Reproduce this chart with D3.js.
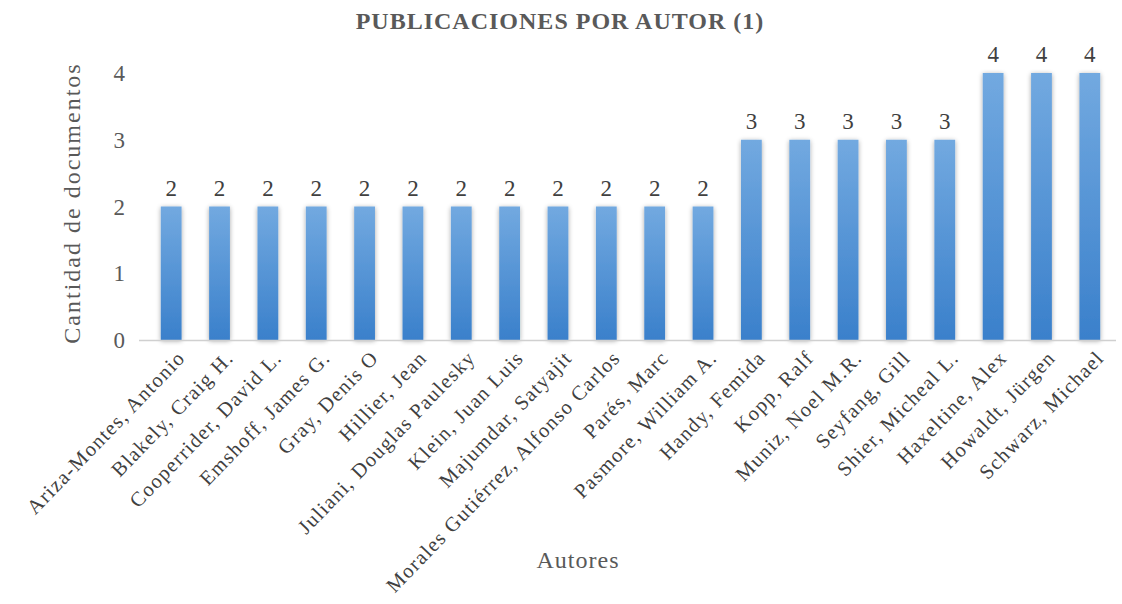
<!DOCTYPE html>
<html>
<head>
<meta charset="utf-8">
<script src="https://cdn.jsdelivr.net/npm/d3@7"></script>
<style>
  body { margin: 0; background: #fff; }
  text { font-family: "Liberation Serif", "DejaVu Serif", serif; fill: #404040; }
</style>
</head>
<body>
<div id="chart"></div>
<script>
// data
var autores = ["Ariza-Montes, Antonio", "Blakely, Craig H.", "Cooperrider, David L.",
  "Emshoff, James G.", "Gray, Denis O", "Hillier, Jean", "Juliani, Douglas Paulesky",
  "Klein, Juan Luis", "Majumdar, Satyajit", "Morales Gutiérrez, Alfonso Carlos",
  "Parés, Marc", "Pasmore, William A.", "Handy, Femida", "Kopp, Ralf",
  "Muniz, Noel M.R.", "Seyfang, Gill", "Shier, Micheal L.", "Haxeltine, Alex",
  "Howaldt, Jürgen", "Schwarz, Michael"];
var documentos = [2, 2, 2, 2, 2, 2, 2, 2, 2, 2, 2, 2, 3, 3, 3, 3, 3, 4, 4, 4];
var yTicks = [0, 1, 2, 3, 4];

var width = 1122, height = 604;
var margin = {top: 73, right: 8, bottom: 264, left: 147};

var svg = d3.select("#chart").append("svg")
  .attr("width", width)
  .attr("height", height);

var defs = svg.append("defs");
var grad = defs.append("linearGradient")
  .attr("id", "barGrad")
  .attr("x1", 0).attr("y1", 0).attr("x2", 0).attr("y2", 1);
grad.append("stop").attr("offset", "0%").attr("stop-color", "#72a9e0");
grad.append("stop").attr("offset", "100%").attr("stop-color", "#3a80cb");

var shadow = defs.append("filter").attr("id", "shadow")
  .attr("x", "-50%").attr("y", "-10%").attr("width", "200%").attr("height", "120%");
shadow.append("feGaussianBlur").attr("in", "SourceAlpha").attr("stdDeviation", 2.5);
shadow.append("feOffset").attr("dx", 0).attr("dy", 1).attr("result", "blur");
shadow.append("feComponentTransfer").append("feFuncA").attr("type", "linear").attr("slope", 0.35);
var merge = shadow.append("feMerge");
merge.append("feMergeNode");
merge.append("feMergeNode").attr("in", "SourceGraphic");

var x = d3.scaleBand()
  .domain(autores)
  .range([margin.left, width - margin.right])
  .paddingInner(0.57)
  .paddingOuter(0.285);

var y = d3.scaleLinear()
  .domain([0, 4])
  .range([height - margin.bottom, margin.top]);

// title
svg.append("text")
  .attr("x", 560).attr("y", 29)
  .attr("text-anchor", "middle")
  .style("font-size", "24px")
  .style("font-weight", "bold")
  .style("letter-spacing", "1px")
  .style("fill", "#595959")
  .text("PUBLICACIONES POR AUTOR (1)");

// y tick labels
svg.append("g").selectAll("text")
  .data(yTicks)
  .enter().append("text")
  .attr("x", 125)
  .attr("y", function (d) { return y(d); })
  .attr("dy", "0.35em")
  .attr("text-anchor", "end")
  .style("font-size", "23px")
  .style("fill", "#595959")
  .text(function (d) { return d; });

// bars
svg.append("g").selectAll("rect")
  .data(documentos)
  .enter().append("rect")
  .attr("x", function (d, i) { return x(autores[i]); })
  .attr("y", function (d) { return y(d); })
  .attr("width", x.bandwidth())
  .attr("height", function (d) { return y(0) - y(d); })
  .attr("fill", "url(#barGrad)")
  .attr("filter", "url(#shadow)");

// baseline
svg.append("line")
  .attr("x1", 139).attr("x2", width - 6)
  .attr("y1", y(0) + 0.5).attr("y2", y(0) + 0.5)
  .attr("stroke", "#d0d0d0")
  .attr("stroke-width", 1.5);

// value labels
svg.append("g").selectAll("text")
  .data(documentos)
  .enter().append("text")
  .attr("x", function (d, i) { return x(autores[i]) + x.bandwidth() / 2; })
  .attr("y", function (d) { return y(d) - 11; })
  .attr("text-anchor", "middle")
  .style("font-size", "23px")
  .text(function (d) { return d; });

// category labels
svg.append("g").selectAll("text")
  .data(autores)
  .enter().append("text")
  .attr("transform", function (d) {
    return "translate(" + (x(d) + x.bandwidth() / 2 + 10) + "," + (y(0) + 14) + ") rotate(-46)";
  })
  .attr("text-anchor", "end")
  .attr("dy", "0.35em")
  .style("font-size", "20.5px")
  .style("letter-spacing", "1.3px")
  .text(function (d) { return d; });

// axis titles
svg.append("text")
  .attr("transform", "translate(80,203) rotate(-90)")
  .attr("text-anchor", "middle")
  .style("font-size", "24px")
  .style("letter-spacing", "2px")
  .style("fill", "#595959")
  .text("Cantidad de documentos");

svg.append("text")
  .attr("x", 578).attr("y", 568)
  .attr("text-anchor", "middle")
  .style("font-size", "24px")
  .style("letter-spacing", "1px")
  .style("fill", "#595959")
  .text("Autores");
</script>
</body>
</html>
